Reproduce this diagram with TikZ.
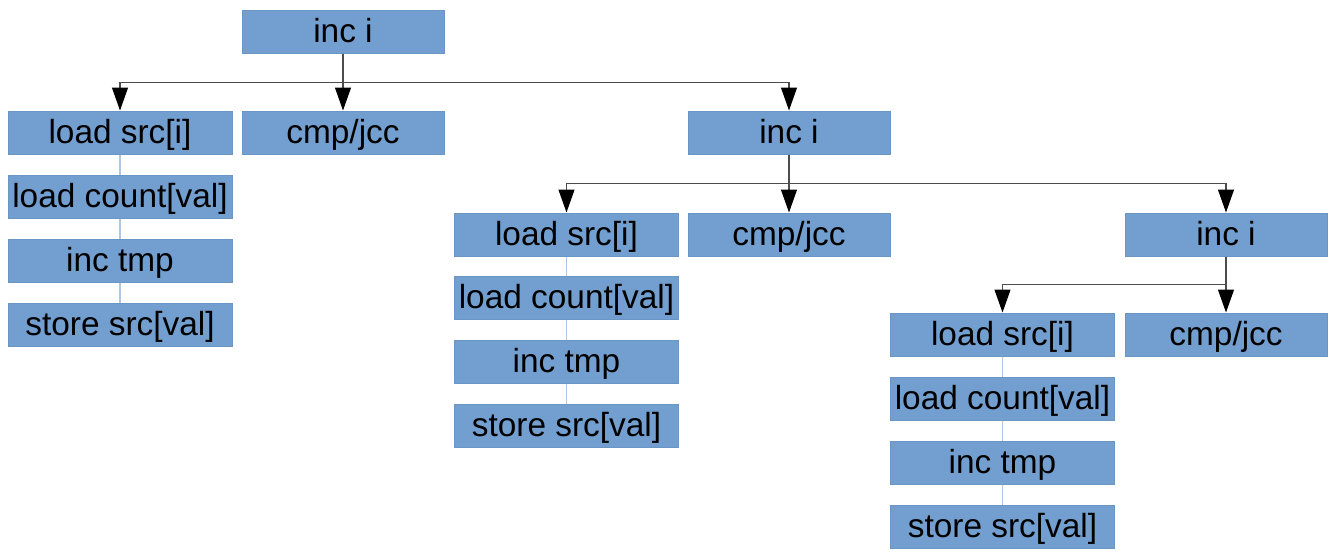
\documentclass[tikz,border=0pt]{standalone}
\usepackage{fontspec}
\setmainfont{Liberation Sans}
\usepackage{tikz}
\usetikzlibrary{arrows.meta}
\definecolor{boxblue}{HTML}{729FCF}
\definecolor{boxline}{HTML}{6A96C6}
\definecolor{stkline}{HTML}{AFC6E4}
\tikzset{box/.style={rectangle,fill=boxblue,draw=boxline,line width=0.5pt,
            minimum width=112pt,minimum height=21.5pt,inner sep=0pt,
            text height=13.5pt,text depth=3pt,
            font=\fontsize{16.7}{20}\selectfont},
         wbox/.style={box,minimum width=101pt},
         link/.style={draw=black!70,line width=0.6pt,
            -{Triangle[length=11.5pt,width=8pt,black]}},
         stk/.style={draw=stkline,line width=0.6pt}
         }
\begin{document}
\begin{tikzpicture}[x=0.5pt,y=-0.5pt]
        \useasboundingbox (0,0) rectangle (1335,557);
        % first level
        \node[wbox] (top) at (343,31.5) {inc i};
        \node[box] (loadA) at (120,132.5) {load src[i]};
        \node[wbox] (cmpA) at (343,132.5) {cmp/jcc};
        \node[wbox] (incA) at (789,132.5) {inc i};
        \node[box] (cntA) at (120,196.5) {load count[val]};
        \node[box] (tmpA) at (120,260.5) {inc tmp};
        \node[box] (stoA) at (120,324.5) {store src[val]};
        % second level
        \node[box] (loadB) at (566.5,234.5) {load src[i]};
        \node[wbox] (cmpB) at (789,234.5) {cmp/jcc};
        \node[wbox] (incB) at (1226,234.5) {inc i};
        \node[box] (cntB) at (566.5,297.5) {load count[val]};
        \node[box] (tmpB) at (566.5,361.5) {inc tmp};
        \node[box] (stoB) at (566.5,425.5) {store src[val]};
        % third level
        \node[box] (loadC) at (1002.5,334.5) {load src[i]};
        \node[wbox] (cmpC) at (1226,334.5) {cmp/jcc};
        \node[box] (cntC) at (1002.5,398.5) {load count[val]};
        \node[box] (tmpC) at (1002.5,462.5) {inc tmp};
        \node[box] (stoC) at (1002.5,526.5) {store src[val]};

        \foreach \s in {A,B,C}{
          \draw[stk] (load\s) -- (cnt\s) -- (tmp\s) -- (sto\s);
        }

        \draw[link] (top.south) -- (cmpA.north);
        \draw[link] (top.south) -- ++(0,29) -| (loadA.north);
        \draw[link] (top.south) -- ++(0,29) -| (incA.north);
        \draw[link] (incA.south) -- (cmpB.north);
        \draw[link] (incA.south) -- ++(0,29) -| (loadB.north);
        \draw[link] (incA.south) -- ++(0,29) -| (incB.north);
        \draw[link] (incB.south) -- (cmpC.north);
        \draw[link] (incB.south) -- ++(0,28) -| (loadC.north);
\end{tikzpicture}
\end{document}
